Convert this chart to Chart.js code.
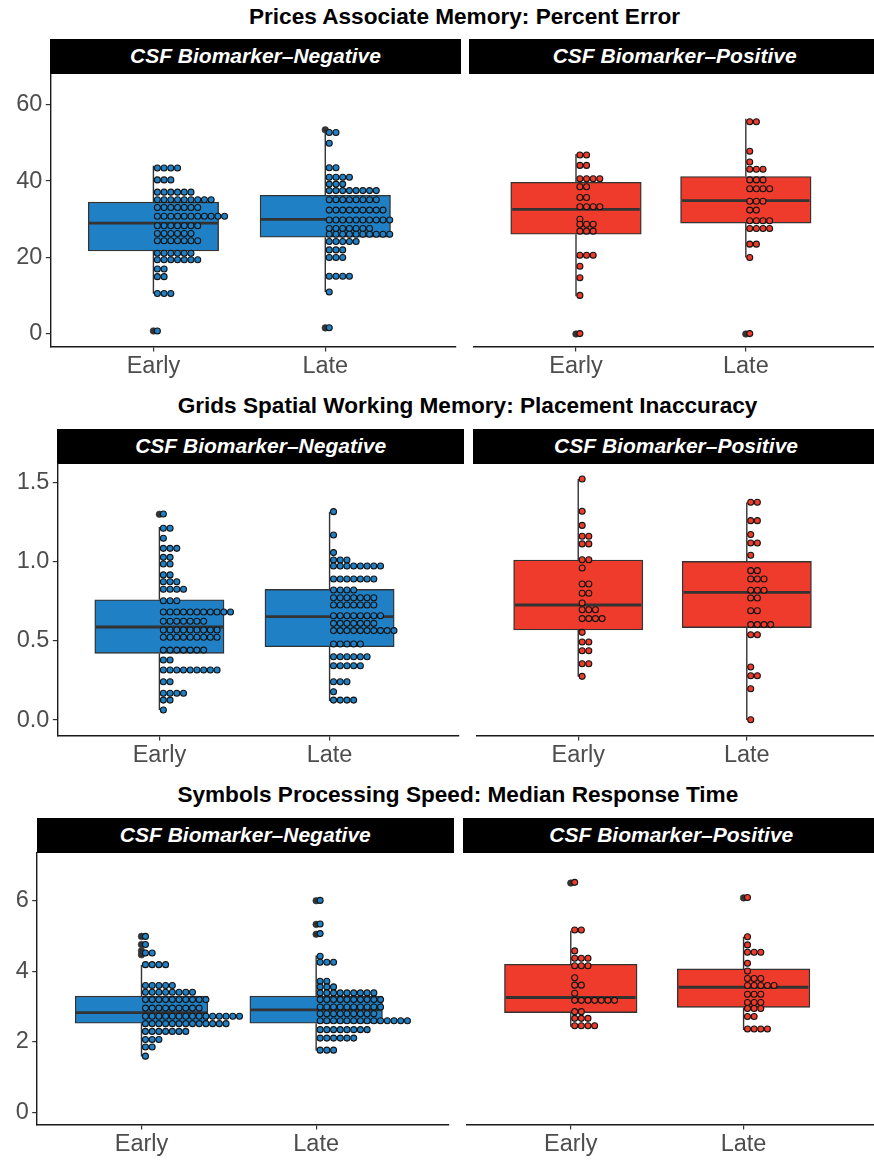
<!DOCTYPE html>
<html><head><meta charset="utf-8">
<script src="https://cdn.jsdelivr.net/npm/chart.js@4.4.1/dist/chart.umd.min.js"></script>
<style>
html,body{margin:0;padding:0;background:#fff;}
body{width:874px;height:1161px;overflow:hidden;position:relative;font-family:"Liberation Sans",Arial,Helvetica,sans-serif;}
.title{position:absolute;font-weight:bold;font-size:22.6px;color:#000;white-space:nowrap;transform:translate(-50%,-50%);line-height:1;}
.strip{position:absolute;background:#000;color:#fff;font-weight:bold;font-style:italic;font-size:21px;display:flex;align-items:center;justify-content:center;white-space:nowrap;overflow:visible;}
canvas{position:absolute;}
</style></head><body>
<script>
// ---------------- data ----------------
const categories = ['Early', 'Late'];
const facets = ['CSF Biomarker\u2013Negative', 'CSF Biomarker\u2013Positive'];
const titles = ['Prices Associate Memory: Percent Error',
                'Grids Spatial Working Memory: Placement Inaccuracy',
                'Symbols Processing Speed: Median Response Time'];

const pricesTicks = [0, 20, 40, 60];
const pricesTickLabels = ['0', '20', '40', '60'];
const gridsTicks = [0, 0.5, 1.0, 1.5];
const gridsTickLabels = ['0.0', '0.5', '1.0', '1.5'];
const symbolsTicks = [0, 2, 4, 6];
const symbolsTickLabels = ['0', '2', '4', '6'];

// box stats per category: [lower whisker, Q1, median, Q3, upper whisker]
const pricesNegBox = [[10.5, 21.7, 29.0, 34.5, 44.0], [11.0, 25.3, 30.0, 36.3, 52.6]];
const pricesPosBox = [[9.9, 26.1, 32.6, 39.7, 47.1], [20.0, 29.0, 34.9, 41.2, 56.3]];
const gridsNegBox = [[0.063, 0.421, 0.588, 0.760, 1.22], [0.12, 0.463, 0.653, 0.826, 1.317]];
const gridsPosBox = [[0.274, 0.569, 0.727, 1.011, 1.523], [0.0, 0.584, 0.807, 1.003, 1.374]];
const symbolsNegBox = [[1.59, 2.53, 2.83, 3.30, 4.18], [1.75, 2.53, 2.91, 3.30, 4.45]];
const symbolsPosBox = [[2.43, 2.83, 3.26, 4.20, 5.15], [2.34, 2.98, 3.55, 4.07, 4.98]];

// box-plot outliers per category
const pricesNegOut = [[0.8], [53.4, 1.6]];
const pricesPosOut = [[0.0], [0.0]];
const gridsNegOut = [[1.30], []];
const gridsPosOut = [[], []];
const symbolsNegOut = [[4.99, 4.76, 4.58, 4.47], [6.0, 5.33, 5.05]];
const symbolsPosOut = [[6.5], [6.08]];

// dot-plot bins: [bin value, count]
const pricesNegEarly = [[43.4,4],[40.3,3],[37.1,6],[35.1,9],[33.1,7],[30.8,11],[28.3,7],[26.3,6],[24.4,7],[21.1,6],[19.4,7],[17.0,2],[15.0,2],[10.6,3],[0.8,1]];
const pricesNegLate = [[52.7,2],[49.9,1],[43.5,2],[41.0,4],[39.2,3],[37.5,8],[35.1,8],[32.4,9],[29.8,10],[27.6,7],[26.1,10],[24.2,5],[22.0,3],[20.0,3],[15.1,4],[11.0,1],[1.65,1]];
const pricesPosEarly = [[46.8,2],[44.1,2],[40.6,4],[38.5,2],[35.7,2],[33.3,4],[30.0,1],[28.7,3],[26.9,3],[20.6,3],[17.7,1],[14.7,1],[10.1,1],[0.1,1]];
const pricesPosLate = [[55.5,2],[47.8,1],[45.0,1],[43.1,3],[40.3,3],[38.0,4],[34.7,3],[32.4,2],[29.6,4],[27.6,4],[23.5,2],[20.0,1],[0.1,1]];

const gridsNegEarly = [[1.302,1],[1.212,2],[1.149,1],[1.085,3],[1.028,2],[0.986,2],[0.917,2],[0.874,3],[0.826,4],[0.754,3],[0.683,11],[0.624,7],[0.569,9],[0.523,9],[0.442,7],[0.379,2],[0.316,9],[0.242,2],[0.169,4],[0.126,2],[0.063,1]];
const gridsNegLate = [[1.317,1],[1.169,1],[1.058,1],[1.011,3],[0.973,8],[0.891,7],[0.822,4],[0.773,7],[0.727,7],[0.659,8],[0.611,7],[0.565,10],[0.480,5],[0.400,6],[0.343,5],[0.242,3],[0.179,1],[0.126,4]];
const gridsPosEarly = [[1.523,1],[1.319,1],[1.230,1],[1.161,2],[1.113,2],[1.013,2],[0.961,1],[0.860,2],[0.801,2],[0.740,1],[0.697,3],[0.641,4],[0.554,1],[0.493,2],[0.438,2],[0.356,2],[0.276,1]];
const gridsPosLate = [[1.376,2],[1.260,2],[1.172,1],[1.119,2],[1.041,1],[0.944,2],[0.891,3],[0.820,3],[0.771,2],[0.691,2],[0.603,4],[0.539,2],[0.335,1],[0.280,2],[0.198,1],[0.002,1]];

const symbolsNegEarly = [[4.99,1],[4.76,1],[4.52,2],[4.19,4],[3.60,5],[3.41,8],[3.20,10],[2.96,9],[2.73,15],[2.52,13],[2.30,7],[2.07,3],[1.86,2],[1.60,1]];
const symbolsNegLate = [[6.01,1],[5.34,1],[5.07,1],[4.43,1],[4.26,3],[3.72,2],[3.56,3],[3.39,9],[3.20,10],[2.99,10],[2.80,9],[2.60,14],[2.35,8],[2.11,6],[1.77,3]];
const symbolsPosEarly = [[6.52,1],[5.17,2],[4.58,1],[4.37,3],[4.16,3],[3.82,1],[3.61,2],[3.38,1],[3.18,7],[2.86,2],[2.67,3],[2.46,4]];
const symbolsPosLate = [[6.09,1],[4.98,1],[4.75,1],[4.54,3],[4.23,1],[4.01,1],[3.80,3],[3.60,5],[3.35,3],[3.12,3],[2.95,3],[2.72,2],[2.37,4]];

// ---------------- styling / layout ----------------
const BLUE = '#1f80c6';
const RED = '#ee3b2b';
const TICK_COL = '#4d4d4d';
const FONT = '"Liberation Sans", Arial, Helvetica, sans-serif';
const X_MIN = 0.4, X_MAX = 2.76;
const BOX_W = 0.75;
const DOT_OFF = 4.0, DOT_STEP = 6.8;
Chart.defaults.font.family = FONT;

function addDiv(cls, text, style) {
  const d = document.createElement('div');
  d.className = cls; d.textContent = text;
  Object.assign(d.style, style);
  document.body.appendChild(d);
}

function panel(cfg) {
  const x0 = cfg.showY ? 0 : Math.floor(cfg.left);
  const cTop = Math.floor(cfg.top) - 26;
  const w = Math.ceil(cfg.right - x0);
  const h = Math.ceil(cfg.bottom - cTop + 44);
  const padTop = cfg.top - cTop;
  const padLeft = cfg.showY ? 0 : cfg.left - x0;
  const padRight = w - (cfg.right - x0);
  const xh = h - (cfg.bottom - cTop);
  const cv = document.createElement('canvas');
  cv.width = w; cv.height = h;
  Object.assign(cv.style, {left: x0 + 'px', top: cTop + 'px', width: w + 'px', height: h + 'px'});
  document.body.appendChild(cv);
  const pxu = (cfg.right - cfg.left) / (X_MAX - X_MIN);

  const ds = [];
  const boxData = cfg.box.map((b, i) => ({x: i + 1, y: [b[1], b[3]]}));
  ds.push({type: 'bar', data: boxData, backgroundColor: cfg.color, borderColor: '#333',
           borderWidth: 1.4, borderSkipped: false, barThickness: BOX_W * pxu, grouped: false, order: 5});
  cfg.box.forEach((b, i) => {
    const c = i + 1;
    const [lo, q1, med, q3, hi] = b;
    const line = {type: 'line', borderColor: '#333', borderWidth: 1.4, pointRadius: 0, fill: false, order: 6};
    ds.push(Object.assign({}, line, {data: [{x: c, y: q3}, {x: c, y: hi}]}));
    ds.push(Object.assign({}, line, {data: [{x: c, y: q1}, {x: c, y: lo}]}));
    ds.push(Object.assign({}, line, {data: [{x: c - BOX_W / 2, y: med}, {x: c + BOX_W / 2, y: med}],
            borderWidth: 2.8, order: 4}));
    ds.push({type: 'scatter', data: cfg.out[i].map(v => ({x: c, y: v})), pointRadius: 3.3,
             backgroundColor: '#333', borderColor: '#333', borderWidth: 0.6, order: 3});
    const pts = [];
    cfg.dots[i].forEach(([v, n]) => {
      for (let k = 0; k < n; k++) pts.push({x: c + (DOT_OFF + k * DOT_STEP) / pxu, y: v});
    });
    ds.push({type: 'scatter', data: pts, pointRadius: 3.0, backgroundColor: cfg.color,
             borderColor: '#141414', borderWidth: 1.1, order: 2});
  });

  const gridCfg = {display: true, drawOnChartArea: false, drawTicks: true, tickLength: 4.5,
                   color: '#333', lineWidth: 1.2, offset: false};
  new Chart(cv.getContext('2d'), {
    type: 'scatter',
    data: {datasets: ds},
    options: {
      responsive: false, animation: false, devicePixelRatio: 1, events: [],
      layout: {padding: {top: padTop, left: padLeft, right: padRight, bottom: 0}},
      plugins: {legend: {display: false}, tooltip: {enabled: false}},
      scales: {
        x: {
          type: 'linear', min: X_MIN, max: X_MAX, offset: false, beginAtZero: false,
          afterBuildTicks: s => { s.ticks = categories.map((_, i) => ({value: i + 1})); },
          ticks: {callback: v => categories[Math.round(v) - 1], color: TICK_COL,
                  font: {size: 23.5}, padding: 1, maxRotation: 0, autoSkip: false},
          grid: gridCfg,
          border: {display: true, color: '#1a1a1a', width: 1.4},
          afterFit: s => { s.height = xh; }
        },
        y: {
          type: 'linear', min: cfg.yMin, max: cfg.yMax, display: cfg.showY, beginAtZero: false,
          afterBuildTicks: s => { s.ticks = cfg.ticks.map(v => ({value: v})); },
          ticks: {callback: v => cfg.tickLabels[cfg.ticks.indexOf(v)], color: TICK_COL,
                  font: {size: 23.5}, padding: 3.5, autoSkip: false},
          grid: gridCfg,
          border: {display: true, color: '#1a1a1a', width: 1.4},
          afterFit: s => { s.width = cfg.left - x0; }
        }
      }
    }
  });
}

const rows = [
  {title: titles[0], tx: 464.5, ty: 17.2, stripTop: 38.7, top: 74, bottom: 347,
   L: [50.3, 460.7], R: [469.3, 880], yMin: -3.4, yMax: 68.0, ticks: pricesTicks, tickLabels: pricesTickLabels,
   box: [pricesNegBox, pricesPosBox], out: [pricesNegOut, pricesPosOut],
   dots: [[pricesNegEarly, pricesNegLate], [pricesPosEarly, pricesPosLate]]},
  {title: titles[1], tx: 467.5, ty: 406.2, stripTop: 428.7, top: 464, bottom: 736,
   L: [57.3, 464], R: [472.7, 879.4], yMin: -0.101, yMax: 1.618, ticks: gridsTicks, tickLabels: gridsTickLabels,
   box: [gridsNegBox, gridsPosBox], out: [gridsNegOut, gridsPosOut],
   dots: [[gridsNegEarly, gridsNegLate], [gridsPosEarly, gridsPosLate]]},
  {title: titles[2], tx: 457.8, ty: 795.3, stripTop: 817.7, top: 852.7, bottom: 1125,
   L: [36.7, 454], R: [462.7, 880], yMin: -0.35, yMax: 7.36, ticks: symbolsTicks, tickLabels: symbolsTickLabels,
   box: [symbolsNegBox, symbolsPosBox], out: [symbolsNegOut, symbolsPosOut],
   dots: [[symbolsNegEarly, symbolsNegLate], [symbolsPosEarly, symbolsPosLate]]}
];

rows.forEach(r => {
  addDiv('title', r.title, {left: r.tx + 'px', top: r.ty + 'px'});
  [r.L, r.R].forEach((ext, j) => {
    addDiv('strip', facets[j], {left: ext[0] + 'px', top: r.stripTop + 'px',
           width: (ext[1] - ext[0]) + 'px', height: (r.top - r.stripTop) + 'px'});
    panel({left: ext[0], right: ext[1], top: r.top, bottom: r.bottom, yMin: r.yMin, yMax: r.yMax,
           ticks: r.ticks, tickLabels: r.tickLabels, showY: j === 0,
           box: r.box[j], out: r.out[j], dots: r.dots[j], color: j === 0 ? BLUE : RED});
  });
});
</script>
</body></html>
